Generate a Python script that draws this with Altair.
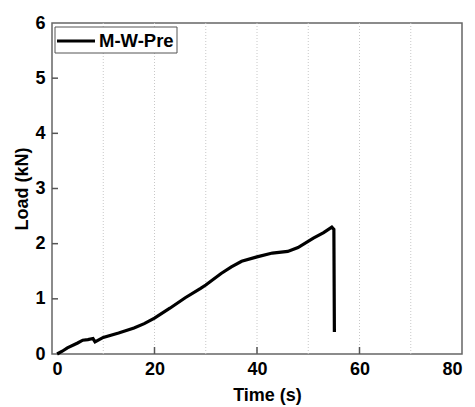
import altair as alt
import pandas as pd

time_s = [1, 2, 3, 5, 6, 7, 8, 8.4, 10, 13, 16, 18, 20, 23, 26, 29, 30, 33, 35, 37, 40, 43, 46, 48, 51, 53, 54.6, 55.0, 55.1]
load_kn = [0, 0.05, 0.11, 0.2, 0.25, 0.26, 0.28, 0.22, 0.30, 0.38, 0.47, 0.55, 0.65, 0.83, 1.02, 1.19, 1.25, 1.46, 1.58, 1.68, 1.76, 1.83, 1.86, 1.93, 2.1, 2.2, 2.3, 2.26, 0.4]
series = "M-W-Pre"
x_ticks = [0, 20, 40, 60, 80]
x_grid = [10, 20, 30, 40, 50, 60, 70]
x_inner_ticks = [20, 40, 60]
y_ticks = [0, 1, 2, 3, 4, 5, 6]
y_inner_ticks = [1, 2, 3, 4, 5]

FONT = "Liberation Sans"
df = pd.DataFrame({"t": time_s, "load": load_kn, "i": list(range(len(time_s)))})

xs = alt.Scale(domain=[0, 80], nice=False)
ys = alt.Scale(domain=[0, 6], nice=False)

grid = alt.Chart(pd.DataFrame({"g": x_grid})).mark_rule(
    color="#c8c8c8", strokeDash=[1, 2], strokeWidth=1
).encode(x=alt.X("g:Q", scale=xs))

xt = alt.Chart(pd.DataFrame({"v": x_inner_ticks})).mark_rule(
    color="#555555", strokeWidth=1.5
).encode(x=alt.X("v:Q", scale=xs), y=alt.value(331), y2=alt.value(324))

yt = alt.Chart(pd.DataFrame({"v": y_inner_ticks})).mark_rule(
    color="#555555", strokeWidth=1.5
).encode(y=alt.Y("v:Q", scale=ys), x=alt.value(0), x2=alt.value(6))

line = alt.Chart(df).mark_line(color="black", strokeWidth=3.2).encode(
    x=alt.X("t:Q", scale=xs,
            axis=alt.Axis(values=x_ticks, format="d", title="Time (s)", ticks=False, domain=False,
                          grid=False, labelPadding=6, titlePadding=8, titleX=215)),
    y=alt.Y("load:Q", scale=ys,
            axis=alt.Axis(values=y_ticks, format="d", title="Load (kN)", ticks=False, domain=False,
                          grid=False, labelPadding=7, titlePadding=3)),
    order="i:Q",
)

leg_df = pd.DataFrame({"name": [series]})
leg_box = alt.Chart(leg_df).mark_rect(fill="white", stroke="#555555", strokeWidth=1).encode(
    x=alt.value(3), x2=alt.value(125), y=alt.value(4), y2=alt.value(30)
)
leg_line = alt.Chart(leg_df).mark_rule(color="black", strokeWidth=3.2).encode(
    x=alt.value(5), x2=alt.value(43), y=alt.value(18)
)
leg_text = alt.Chart(leg_df).mark_text(
    font=FONT, fontWeight="bold", fontSize=18.5, align="left", baseline="middle", color="black"
).encode(text="name:N", x=alt.value(47), y=alt.value(18))

chart = alt.layer(grid, xt, yt, line, leg_box, leg_line, leg_text).properties(
    width=410, height=331,
    autosize=alt.AutoSizeParams(type="none"),
    padding={"left": 52, "top": 23, "right": 13, "bottom": 53},
).configure_view(
    stroke="#666666", strokeWidth=1.5
).configure_axis(
    labelFont=FONT, labelFontWeight="bold", labelFontSize=18, labelColor="black",
    titleFont=FONT, titleFontWeight="bold", titleFontSize=18, titleColor="black",
)

chart.save("out.html", embed_options={"renderer": "svg", "actions": False})
